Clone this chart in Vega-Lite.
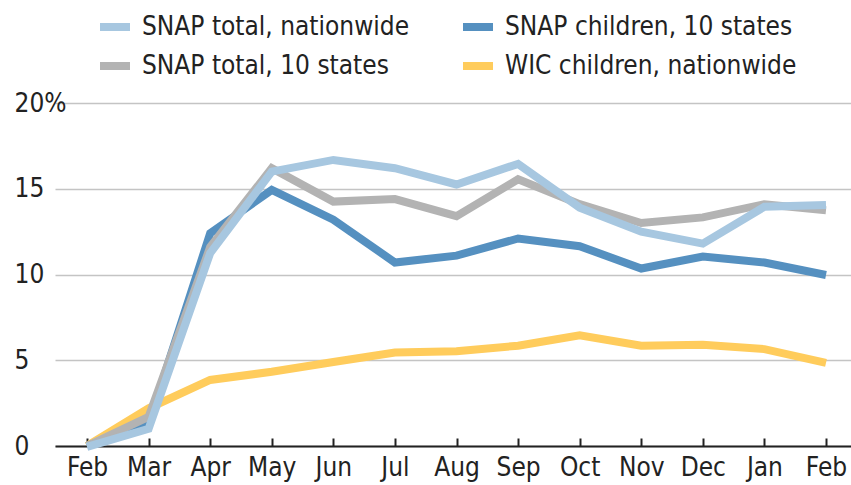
{
  "$schema": "https://vega.github.io/schema/vega-lite/v6.json",
  "width": 796,
  "height": 343,
  "autosize": {"type": "none"},
  "padding": {"left": 55, "top": 103, "right": 0, "bottom": 39},
  "background": "white",
  "config": {
    "view": {"stroke": null},
    "font": "DejaVu Sans Condensed, sans-serif"
  },
  "data": {
    "values": [
      {"i": 0, "series": "WIC children, nationwide", "v": 0},
      {"i": 1, "series": "WIC children, nationwide", "v": 2.2},
      {"i": 2, "series": "WIC children, nationwide", "v": 3.85},
      {"i": 3, "series": "WIC children, nationwide", "v": 4.33},
      {"i": 4, "series": "WIC children, nationwide", "v": 4.9},
      {"i": 5, "series": "WIC children, nationwide", "v": 5.45},
      {"i": 6, "series": "WIC children, nationwide", "v": 5.52},
      {"i": 7, "series": "WIC children, nationwide", "v": 5.85},
      {"i": 8, "series": "WIC children, nationwide", "v": 6.45},
      {"i": 9, "series": "WIC children, nationwide", "v": 5.85},
      {"i": 10, "series": "WIC children, nationwide", "v": 5.9},
      {"i": 11, "series": "WIC children, nationwide", "v": 5.65},
      {"i": 12, "series": "WIC children, nationwide", "v": 4.85},
      {"i": 0, "series": "SNAP children, 10 states", "v": 0},
      {"i": 1, "series": "SNAP children, 10 states", "v": 1.3},
      {"i": 2, "series": "SNAP children, 10 states", "v": 12.4},
      {"i": 3, "series": "SNAP children, 10 states", "v": 14.93},
      {"i": 4, "series": "SNAP children, 10 states", "v": 13.2},
      {"i": 5, "series": "SNAP children, 10 states", "v": 10.7},
      {"i": 6, "series": "SNAP children, 10 states", "v": 11.1},
      {"i": 7, "series": "SNAP children, 10 states", "v": 12.1},
      {"i": 8, "series": "SNAP children, 10 states", "v": 11.65},
      {"i": 9, "series": "SNAP children, 10 states", "v": 10.35},
      {"i": 10, "series": "SNAP children, 10 states", "v": 11.05},
      {"i": 11, "series": "SNAP children, 10 states", "v": 10.7},
      {"i": 12, "series": "SNAP children, 10 states", "v": 9.97},
      {"i": 0, "series": "SNAP total, 10 states", "v": 0},
      {"i": 1, "series": "SNAP total, 10 states", "v": 1.7},
      {"i": 2, "series": "SNAP total, 10 states", "v": 11.6},
      {"i": 3, "series": "SNAP total, 10 states", "v": 16.2},
      {"i": 4, "series": "SNAP total, 10 states", "v": 14.25},
      {"i": 5, "series": "SNAP total, 10 states", "v": 14.4},
      {"i": 6, "series": "SNAP total, 10 states", "v": 13.4},
      {"i": 7, "series": "SNAP total, 10 states", "v": 15.55},
      {"i": 8, "series": "SNAP total, 10 states", "v": 14.1},
      {"i": 9, "series": "SNAP total, 10 states", "v": 13.0},
      {"i": 10, "series": "SNAP total, 10 states", "v": 13.33},
      {"i": 11, "series": "SNAP total, 10 states", "v": 14.1},
      {"i": 12, "series": "SNAP total, 10 states", "v": 13.75},
      {"i": 0, "series": "SNAP total, nationwide", "v": -0.05},
      {"i": 1, "series": "SNAP total, nationwide", "v": 1.0},
      {"i": 2, "series": "SNAP total, nationwide", "v": 11.25},
      {"i": 3, "series": "SNAP total, nationwide", "v": 16.0},
      {"i": 4, "series": "SNAP total, nationwide", "v": 16.68},
      {"i": 5, "series": "SNAP total, nationwide", "v": 16.2},
      {"i": 6, "series": "SNAP total, nationwide", "v": 15.25},
      {"i": 7, "series": "SNAP total, nationwide", "v": 16.45},
      {"i": 8, "series": "SNAP total, nationwide", "v": 13.9},
      {"i": 9, "series": "SNAP total, nationwide", "v": 12.5},
      {"i": 10, "series": "SNAP total, nationwide", "v": 11.8},
      {"i": 11, "series": "SNAP total, nationwide", "v": 13.95},
      {"i": 12, "series": "SNAP total, nationwide", "v": 14.05}
    ]
  },
  "mark": {"type": "line", "strokeWidth": 8, "strokeCap": "butt", "strokeJoin": "miter"},
  "encoding": {
    "x": {
      "field": "i",
      "type": "quantitative",
      "scale": {"domain": [-0.52, 12.406], "nice": false, "zero": false},
      "axis": {
        "title": null,
        "values": [0, 1, 2, 3, 4, 5, 6, 7, 8, 9, 10, 11, 12],
        "labelExpr": "['Feb','Mar','Apr','May','Jun','Jul','Aug','Sep','Oct','Nov','Dec','Jan','Feb'][datum.value]",
        "grid": false,
        "domainColor": "#222222",
        "domainWidth": 2,
        "tickColor": "#222222",
        "tickWidth": 2,
        "tickSize": -8,
        "labelPadding": 16,
        "labelFontSize": 26,
        "labelColor": "#222222",
        "labelFlush": false,
        "labelOverlap": false
      }
    },
    "y": {
      "field": "v",
      "type": "quantitative",
      "scale": {"domain": [0, 20], "nice": false},
      "axis": {
        "title": null,
        "values": [0, 5, 10, 15, 20],
        "labelExpr": "datum.value == 20 ? '20%' : (datum.value < 10 ? '\u2007' + datum.value : '' + datum.value)",
        "domain": false,
        "ticks": false,
        "tickSize": 0,
        "labelAlign": "left",
        "labelPadding": 41,
        "labelFontSize": 26,
        "labelColor": "#222222",
        "labelFlush": false,
        "gridColor": "#c4c4c4",
        "gridWidth": 1.5
      }
    },
    "color": {
      "field": "series",
      "type": "nominal",
      "sort": null,
      "scale": {
        "domain": ["SNAP total, nationwide", "SNAP total, 10 states", "SNAP children, 10 states", "WIC children, nationwide"],
        "range": ["#a7c7e0", "#b3b3b3", "#5590c0", "#ffcc5c"]
      },
      "legend": {
        "title": null,
        "orient": "none",
        "legendX": 41,
        "legendY": -95,
        "columns": 2,
        "columnPadding": 37,
        "rowPadding": 4,
        "padding": 0,
        "symbolType": "stroke",
        "symbolSize": 900,
        "symbolStrokeWidth": 8,
        "labelFontSize": 26,
        "labelColor": "#222222",
        "labelOffset": 8,
        "labelLimit": 400
      }
    }
  }
}
